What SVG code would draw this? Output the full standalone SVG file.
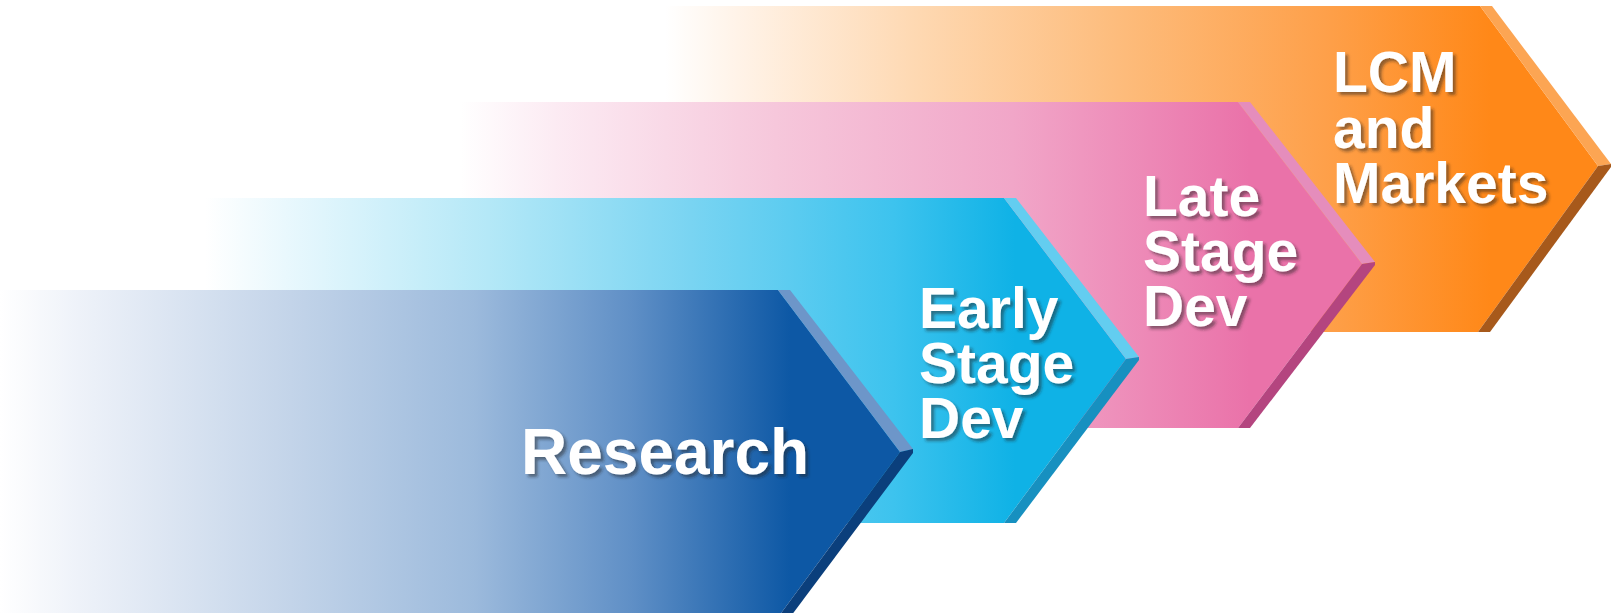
<svg xmlns="http://www.w3.org/2000/svg" width="1611" height="613" viewBox="0 0 1611 613">
<defs>
<linearGradient id="gOrange" gradientUnits="userSpaceOnUse" x1="665" y1="0" x2="1490" y2="0">
<stop offset="0" stop-color="#FFFFFF"/>
<stop offset="0.08" stop-color="#FFF4EA"/>
<stop offset="0.3" stop-color="#FED9B3"/>
<stop offset="0.55" stop-color="#FDBC7C"/>
<stop offset="0.8" stop-color="#FEA04A"/>
<stop offset="1" stop-color="#FF8818"/>
</linearGradient>
<linearGradient id="gPink" gradientUnits="userSpaceOnUse" x1="460" y1="0" x2="1250" y2="0">
<stop offset="0" stop-color="#FFFFFF"/>
<stop offset="0.12" stop-color="#FCEBF3"/>
<stop offset="0.4" stop-color="#F6C7DB"/>
<stop offset="0.7" stop-color="#F1A6C8"/>
<stop offset="1" stop-color="#EA72A9"/>
</linearGradient>
<linearGradient id="gCyan" gradientUnits="userSpaceOnUse" x1="205" y1="0" x2="1015" y2="0">
<stop offset="0" stop-color="#FFFFFF"/>
<stop offset="0.1" stop-color="#E9F8FD"/>
<stop offset="0.35" stop-color="#B4E8F7"/>
<stop offset="0.6" stop-color="#79D4F2"/>
<stop offset="0.85" stop-color="#3DC3EE"/>
<stop offset="1" stop-color="#0FB2E6"/>
</linearGradient>
<linearGradient id="gBlue" gradientUnits="userSpaceOnUse" x1="0" y1="0" x2="790" y2="0">
<stop offset="0" stop-color="#FFFFFF"/>
<stop offset="0.1" stop-color="#EEF2F9"/>
<stop offset="0.35" stop-color="#C6D6EA"/>
<stop offset="0.6" stop-color="#9CBADC"/>
<stop offset="0.8" stop-color="#5F8FC6"/>
<stop offset="1" stop-color="#0D58A5"/>
</linearGradient>
<filter id="shadow" x="-10%" y="-10%" width="130%" height="140%">
<feDropShadow dx="3" dy="3" stdDeviation="1.8" flood-color="#1a1a1a" flood-opacity="0.5"/>
</filter>
</defs>
<style>
.lbl { font-family: "Liberation Sans", Arial, sans-serif; font-weight: bold; fill: #FFFFFF; filter: url(#shadow); }
.ml { font-size: 57px; }
.big { font-size: 64px; }
</style>
<rect width="1611" height="613" fill="#FFFFFF"/>
<g id="node-lcm">
<polygon points="665,6 1480,6 1598,166 1478,332 665,332" fill="url(#gOrange)"/>
<polygon points="1480,6 1492,6 1611,164 1598,166" fill="#FCA553"/>
<polygon points="1598,166 1611,164 1611,167 1490,332 1478,332" fill="#A7591B"/>
<text class="lbl ml"><tspan x="1333" y="92">LCM</tspan><tspan x="1333" y="148">and</tspan><tspan x="1333" y="203">Markets</tspan></text>
</g>
<g id="node-late">
<polygon points="460,102 1238,102 1362,264 1238,428 460,428" fill="url(#gPink)"/>
<polygon points="1238,102 1250,102 1375,262 1362,264" fill="#E58DBC"/>
<polygon points="1362,264 1375,262 1375,265 1250,428 1238,428" fill="#B4457F"/>
<text class="lbl ml"><tspan x="1143" y="216">Late</tspan><tspan x="1143" y="271">Stage</tspan><tspan x="1143" y="326">Dev</tspan></text>
</g>
<g id="node-early">
<polygon points="205,198 1004,198 1126,359 1004,523 205,523" fill="url(#gCyan)"/>
<polygon points="1004,198 1016,198 1139,357 1126,359" fill="#63CDF0"/>
<polygon points="1126,359 1139,357 1139,360 1016,523 1004,523" fill="#1790C0"/>
<text class="lbl ml"><tspan x="919" y="328">Early</tspan><tspan x="919" y="383">Stage</tspan><tspan x="919" y="438">Dev</tspan></text>
</g>
<g id="node-research">
<polygon points="0,290 778,290 900,452 776,620 0,620" fill="url(#gBlue)"/>
<polygon points="778,290 790,290 913,449 900,452" fill="#6D96C9"/>
<polygon points="900,452 913,449 913,453 788,620 776,620" fill="#0B3F7C"/>
<text class="lbl big" x="521" y="474">Research</text>
</g>
<g id="connectors"></g>
</svg>
